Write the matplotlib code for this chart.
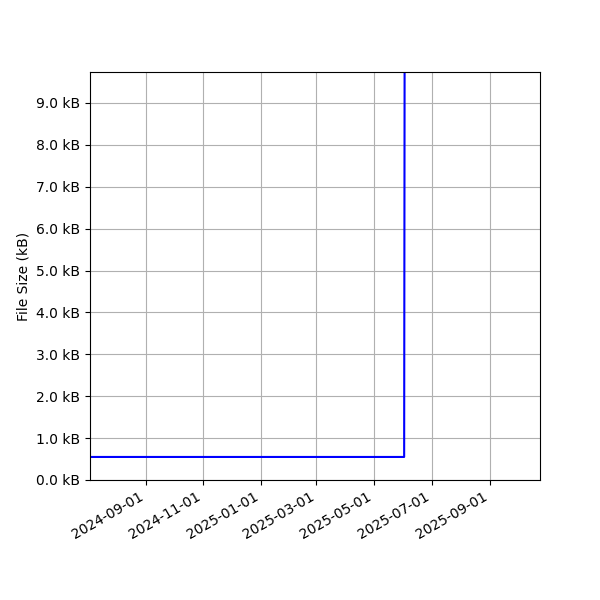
import matplotlib
matplotlib.use('Agg')

import matplotlib.pyplot as plt
import matplotlib.dates as mdates
import matplotlib.ticker as ticker
import pandas as pd

# File size history (bytes)
DATES = ["2024-07-04", "2025-06-02", "2025-06-03"]
SIZES = [550, 550, 20000]

X_START = "2024-07-04"
X_END = "2025-10-24"
Y_TOP = 9740

dates = pd.to_datetime(DATES)

fig, ax = plt.subplots(figsize=(6, 6), dpi=100)
ax.plot(dates, SIZES, color="blue")

ax.set_xlim(pd.Timestamp(X_START), pd.Timestamp(X_END))
ax.set_ylim(0, Y_TOP)

ax.xaxis.set_major_locator(mdates.MonthLocator(bymonth=[1, 3, 5, 7, 9, 11]))
ax.xaxis.set_major_formatter(mdates.DateFormatter("%Y-%m-%d"))
ax.yaxis.set_major_locator(ticker.MultipleLocator(1000))
ax.yaxis.set_major_formatter(ticker.FuncFormatter(lambda v, p: "%.1f kB" % (v / 1000)))

ax.set_ylabel("File Size (kB)")
ax.grid(True)
fig.autofmt_xdate()
fig.subplots_adjust(left=0.15)

plt.savefig("out.png")
